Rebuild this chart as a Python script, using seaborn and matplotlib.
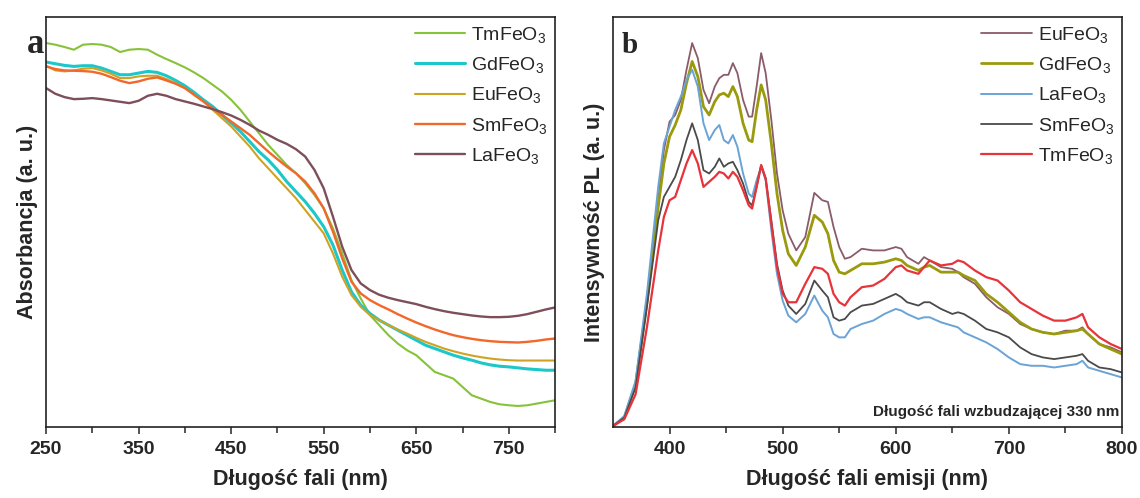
import numpy as np
import pandas as pd
import matplotlib
matplotlib.use("Agg")
import matplotlib.pyplot as plt
import seaborn as sns

# --- dane panelu a (absorbancja) ---
wl_abs = list(range(250, 801, 10))
abs_Tm = [1150, 1145, 1138, 1130, 1145, 1147, 1145, 1138, 1123, 1130, 1132, 1130, 1115, 1102, 1090, 1077,
          1062, 1045, 1025, 1005, 980, 950, 915, 880, 845, 815, 785, 760, 730, 695, 655, 595, 520, 440,
          385, 335, 305, 275, 250, 230, 215, 190, 165, 155, 145, 120, 95, 85, 75, 68, 65, 63, 65, 70, 75, 80]
abs_Gd = [1093, 1088, 1083, 1080, 1082, 1082, 1075, 1065, 1055, 1055, 1060, 1065, 1062, 1052, 1038, 1022,
          1002, 980, 960, 935, 910, 885, 855, 825, 800, 770, 735, 705, 675, 640, 600, 545, 470, 405,
          365, 340, 320, 305, 290, 275, 260, 245, 235, 225, 215, 207, 200, 192, 186, 182, 180, 177, 174, 172, 170, 170]
abs_Eu = [1082, 1068, 1065, 1068, 1073, 1075, 1068, 1058, 1045, 1045, 1050, 1052, 1052, 1042, 1030, 1015,
          995, 975, 950, 925, 900, 870, 840, 805, 775, 745, 715, 685, 650, 615, 580, 520, 450, 395,
          360, 335, 320, 305, 292, 280, 267, 255, 245, 235, 227, 220, 214, 209, 205, 202, 200, 199, 199, 199, 199, 199]
abs_Sm = [1080, 1072, 1068, 1067, 1066, 1064, 1058, 1048, 1037, 1030, 1035, 1043, 1047, 1038, 1028, 1015,
          995, 975, 955, 935, 915, 895, 875, 850, 825, 802, 780, 760, 735, 700, 655, 585, 505, 435,
          400, 380, 365, 352, 338, 325, 313, 302, 292, 283, 275, 269, 264, 260, 257, 255, 254, 253, 255, 258, 262, 265]
abs_La = [1015, 998, 988, 982, 983, 985, 982, 978, 974, 970, 977, 992, 998, 992, 982, 975,
          968, 960, 952, 943, 933, 920, 905, 888, 875, 860, 848, 832, 810, 770, 715, 630, 540, 470,
          430, 410, 396, 387, 380, 374, 368, 360, 353, 347, 342, 338, 334, 331, 329, 329, 330, 333, 338, 345, 352, 358]

# --- dane panelu b (PL) ---
wl_pl = [350, 360, 370, 380, 390, 395, 400, 405, 410, 415, 420, 425, 430, 435, 440, 444, 448, 452, 456,
         460, 465, 470, 473, 477, 481, 485, 490, 495, 500, 505, 512, 520, 528, 535, 540, 545, 550, 555, 560,
         570, 580, 590, 600, 605, 610, 620, 625, 630, 640, 650, 655, 660, 670, 680, 690, 700, 710, 720, 730,
         740, 750, 760, 765, 770, 780, 790, 800]
pl_Eu = [3, 28, 128, 378, 678, 828, 913, 933, 978, 1068, 1148, 1103, 1008, 968, 1018, 1043, 1053, 1053, 1088,
         1058, 978, 928, 928, 1018, 1118, 1058, 918, 758, 648, 578, 528, 568, 700, 678, 673, 598, 538, 503, 508,
         533, 528, 528, 538, 533, 508, 488, 508, 498, 478, 473, 463, 448, 428, 388, 358, 338, 308, 293, 283,
         278, 288, 288, 298, 278, 248, 238, 223]
pl_Gd = [3, 28, 128, 373, 658, 788, 868, 903, 948, 1028, 1093, 1048, 958, 933, 973, 993, 998, 988, 1018,
         988, 908, 858, 853, 948, 1023, 978, 848, 698, 588, 518, 483, 538, 633, 613, 578, 498, 463, 458, 468,
         488, 488, 493, 503, 498, 483, 468, 478, 483, 463, 463, 463, 453, 438, 398, 373, 343, 313, 293, 283,
         278, 283, 288, 293, 278, 248, 233, 218]
pl_La = [3, 33, 138, 398, 718, 848, 898, 948, 988, 1038, 1068, 1018, 908, 858, 888, 903, 858, 848, 873,
         838, 758, 698, 688, 738, 778, 738, 588, 458, 378, 333, 313, 338, 393, 348, 328, 278, 268, 268, 293,
         308, 318, 338, 353, 348, 338, 323, 328, 328, 313, 303, 298, 283, 268, 253, 233, 208, 188, 183, 183,
         178, 183, 188, 198, 178, 168, 158, 148]
pl_Sm = [3, 28, 118, 358, 618, 688, 718, 748, 798, 858, 908, 858, 768, 758, 778, 803, 778, 788, 793,
         768, 728, 673, 663, 718, 783, 743, 618, 488, 408, 363, 338, 368, 438, 408, 388, 328, 318, 323, 343,
         363, 368, 383, 398, 388, 373, 363, 373, 373, 353, 338, 343, 338, 318, 293, 283, 268, 238, 218, 208,
         203, 208, 213, 218, 198, 178, 173, 163]
pl_Tm = [3, 23, 98, 298, 528, 628, 678, 688, 738, 788, 828, 788, 718, 733, 748, 763, 758, 743, 763,
         748, 708, 663, 653, 718, 783, 743, 608, 478, 398, 373, 373, 428, 478, 473, 458, 398, 373, 363, 388,
         418, 423, 443, 478, 483, 468, 458, 478, 498, 483, 488, 498, 493, 468, 448, 438, 408, 373, 353, 333,
         318, 318, 328, 338, 298, 268, 248, 233]

sns.set_style("ticks")
plt.rcParams['font.family'] = ['Liberation Sans', 'DejaVu Sans']
plt.rcParams['mathtext.fontset'] = 'custom'
plt.rcParams['mathtext.rm'] = 'Liberation Sans'
plt.rcParams['mathtext.it'] = 'Liberation Sans:italic'
plt.rcParams['mathtext.bf'] = 'Liberation Sans:bold'

fig = plt.figure(figsize=(11.4, 4.98), dpi=100)
ax1 = fig.add_axes([0.0404, 0.1426, 0.4465, 0.8233])
ax2 = fig.add_axes([0.5377, 0.1426, 0.4465, 0.8233])

# panel a
seria_a = [("TmFeO$_3$", abs_Tm, "#86c23a", 1.5),
           ("GdFeO$_3$", abs_Gd, "#1cc7c9", 2.2),
           ("EuFeO$_3$", abs_Eu, "#cfa321", 1.5),
           ("SmFeO$_3$", abs_Sm, "#f2672a", 1.7),
           ("LaFeO$_3$", abs_La, "#7d4f5a", 1.7)]
for nazwa, y, kolor, lw in seria_a:
    sns.lineplot(x=wl_abs, y=y, ax=ax1, color=kolor, linewidth=lw, label=nazwa)

ax1.set_xlim(250, 800)
ax1.set_ylim(0, 1228)
ax1.set_xticks([250, 350, 450, 550, 650, 750])
ax1.set_xticks([300, 400, 500, 600, 700, 800], minor=True)
ax1.set_yticks([])
ax1.set_xlabel("Długość fali (nm)", fontsize=15.5, fontweight="bold", labelpad=8)
ax1.set_ylabel("Absorbancja (a. u.)", fontsize=15.5, fontweight="bold", labelpad=6)

# panel b
seria_b = [("EuFeO$_3$", pl_Eu, "#8a5b68", 1.3),
           ("GdFeO$_3$", pl_Gd, "#9a9a0e", 2.0),
           ("LaFeO$_3$", pl_La, "#6aa3d6", 1.4),
           ("SmFeO$_3$", pl_Sm, "#4a4a4a", 1.3),
           ("TmFeO$_3$", pl_Tm, "#e8333b", 1.6)]
for nazwa, y, kolor, lw in seria_b:
    sns.lineplot(x=wl_pl, y=y, ax=ax2, color=kolor, linewidth=lw, label=nazwa)

ax2.set_xlim(350, 800)
ax2.set_ylim(0, 1226)
ax2.set_xticks([400, 500, 600, 700, 800])
ax2.set_xticks([450, 550, 650, 750], minor=True)
ax2.set_yticks([])
ax2.set_xlabel("Długość fali emisji (nm)", fontsize=15.5, fontweight="bold", labelpad=8)
ax2.set_ylabel("Intensywność PL (a. u.)", fontsize=15.5, fontweight="bold", labelpad=6)
ax2.text(0.995, 0.02, "Długość fali wzbudzającej 330 nm", transform=ax2.transAxes,
         ha="right", va="bottom", fontsize=11, fontweight="bold")

for ax in (ax1, ax2):
    for s in ax.spines.values():
        s.set_visible(True)
        s.set_linewidth(1.2)
        s.set_color("#222222")
    ax.tick_params(axis="x", which="major", length=5, width=1.1, labelsize=14, pad=5)
    ax.tick_params(axis="x", which="minor", length=4, width=1.1)
    for t in ax.get_xticklabels():
        t.set_fontweight("bold")
    ax.legend(loc="upper right", frameon=False, fontsize=14, handlelength=2.6,
              handletextpad=0.3, labelspacing=0.53, borderaxespad=0.2, borderpad=0.2)

fig.text(27 / 1140, 1 - 53 / 498, "a", fontsize=25, fontweight="bold",
         family=["Liberation Serif", "DejaVu Serif"], ha="left", va="baseline")
fig.text(622 / 1140, 1 - 53 / 498, "b", fontsize=21, fontweight="bold",
         family=["Liberation Serif", "DejaVu Serif"], ha="left", va="baseline")

fig.savefig("out.png", dpi=100)
